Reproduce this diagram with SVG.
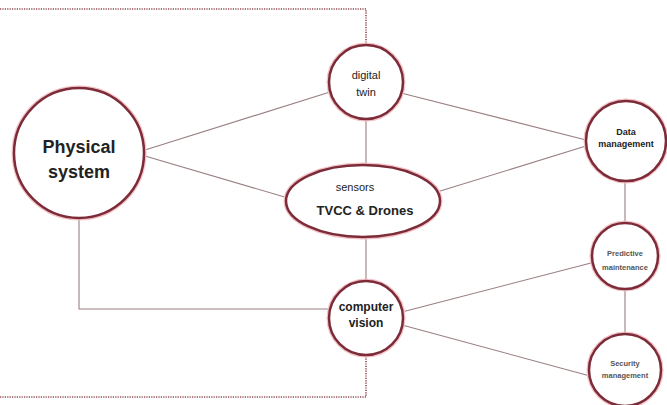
<svg xmlns="http://www.w3.org/2000/svg" width="667" height="405" viewBox="0 0 667 405">
<style>
.node{fill:#ffffff;stroke:#7d2b38;stroke-width:2.5}
.halo{fill:none;stroke:#f2c4c8;stroke-width:5}
.edge{fill:none;stroke:#9a7f80;stroke-width:1.1}
.frame{fill:none;stroke:#8e4a50;stroke-width:1.6;stroke-dasharray:1.2 1.2}
text{font-family:"Liberation Sans",Arial,sans-serif;fill:#222;text-anchor:middle}
.b{font-weight:bold}
.s{fill:#555}
</style>
<rect width="667" height="405" fill="#ffffff"/>
<g id="frame">
<path class="frame" d="M0 9 H366 V45"/>
<path class="frame" d="M0 397 H366 V356"/>
</g>
<g id="connectors">
<line class="edge" x1="145" y1="150" x2="330" y2="92"/>
<line class="edge" x1="145" y1="156" x2="288" y2="198"/>
<line class="edge" x1="366" y1="119" x2="366" y2="165"/>
<line class="edge" x1="401" y1="93" x2="586" y2="140"/>
<line class="edge" x1="437" y1="192" x2="586" y2="146"/>
<line class="edge" x1="366" y1="237" x2="366" y2="282"/>
<line class="edge" x1="402" y1="312" x2="591" y2="263"/>
<line class="edge" x1="402" y1="325" x2="590" y2="376"/>
<line class="edge" x1="625" y1="181" x2="625" y2="224"/>
<line class="edge" x1="625" y1="289" x2="625" y2="334"/>
<path class="edge" d="M79 217 V309 H329"/>
</g>
<g id="physical-system">
<circle class="halo" cx="79" cy="153" r="65"/>
<circle class="node" cx="79" cy="153" r="65"/>
<text class="b" x="79" y="153" font-size="18">Physical</text>
<text class="b" x="79" y="178" font-size="18">system</text>
</g>
<g id="digital-twin">
<circle class="halo" cx="366" cy="82" r="37"/>
<circle class="node" cx="366" cy="82" r="37"/>
<text x="366" y="79" font-size="11">digital</text>
<text x="366" y="96" font-size="11">twin</text>
</g>
<g id="sensors">
<ellipse class="halo" cx="363" cy="201" rx="77" ry="36"/>
<ellipse class="node" cx="363" cy="201" rx="77" ry="36"/>
<text x="355" y="191" font-size="11">sensors</text>
<text class="b" x="365" y="215" font-size="13">TVCC &amp; Drones</text>
</g>
<g id="computer-vision">
<circle class="halo" cx="366" cy="318" r="37"/>
<circle class="node" cx="366" cy="318" r="37"/>
<text class="b" x="366" y="311" font-size="12">computer</text>
<text class="b" x="366" y="327" font-size="12">vision</text>
</g>
<g id="data-management">
<circle class="halo" cx="626" cy="141" r="40"/>
<circle class="node" cx="626" cy="141" r="40"/>
<text class="b" x="626" y="135" font-size="9">Data</text>
<text class="b" x="626" y="147" font-size="9">management</text>
</g>
<g id="predictive-maintenance">
<circle class="halo" cx="625" cy="256" r="33"/>
<circle class="node" cx="625" cy="256" r="33"/>
<text class="b s" x="625" y="256" font-size="7.5">Predictive</text>
<text class="b s" x="625" y="270" font-size="7.5">maintenance</text>
</g>
<g id="security-management">
<circle class="halo" cx="625" cy="370" r="36"/>
<circle class="node" cx="625" cy="370" r="36"/>
<text class="b s" x="625" y="366" font-size="7.5">Security</text>
<text class="b s" x="625" y="378" font-size="7.5">management</text>
</g>
</svg>
